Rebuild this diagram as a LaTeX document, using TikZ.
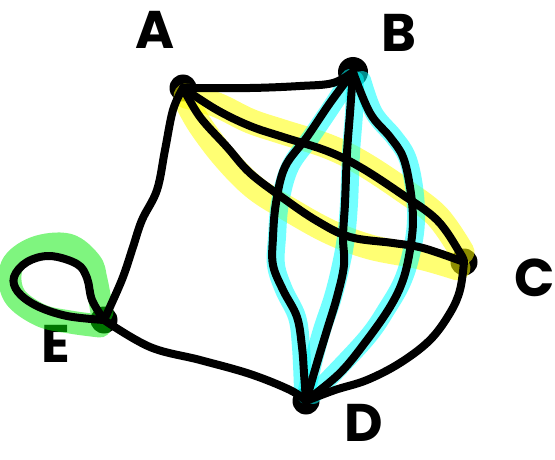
\documentclass[tikz,border=0pt]{standalone}
\usepackage{fontspec}
\setmainfont{Poppins}
\definecolor{hly}{RGB}{255,255,0}
\definecolor{hlc}{RGB}{0,255,255}
\definecolor{hlg}{RGB}{0,235,0}
\begin{document}
\begin{tikzpicture}[x=1pt,y=-1pt,
  vertex/.style={circle,fill=black,inner sep=0pt,minimum size=27pt},
  edgeline/.style={line width=8pt,line cap=round,line join=round},
  hlyellow/.style={line width=25pt,line cap=round,line join=round,draw=hly,opacity=0.55},
  hlcyan/.style={line width=18pt,line cap=round,line join=round,draw=hlc,opacity=0.55},
  hlgreen/.style={line width=23pt,line cap=round,line join=round,draw=hlg,opacity=0.5},
  lbl/.style={font=\fontsize{53}{53}\selectfont\bfseries,inner sep=0pt}]
\useasboundingbox (0,0) rectangle (555,460);
% vertices
\node[vertex] (A) at (183,88) {};
\node[vertex,minimum size=30pt] (B) at (353,72) {};
\node[vertex] (C) at (464,262) {};
\node[vertex] (D) at (306,401) {};
\node[vertex] (E) at (104,320) {};
% labels
\node[lbl] (lA) at (155,30) {A};
\node[lbl] (lB) at (399,33) {B};
\node[lbl] (lC) at (535,278) {C};
\node[lbl,anchor=base] (lD) at (364,441) {D};
\node[lbl] (lE) at (56,344) {E};
% highlights
\draw[hlyellow] plot[smooth,tension=0.6] coordinates {(186,96) (217,105) (250,121) (283,132) (327,146) (360,162) (400,188) (437,216) (462,252)};
\draw[hlyellow] plot[smooth,tension=0.6] coordinates {(186,100) (200,125) (225,158) (255,188) (290,210) (330,232) (370,247) (420,257) (458,268)};
\draw[hlcyan] plot[smooth,tension=0.6] coordinates {(350,78) (334,103) (311,137) (290,167) (280,203) (277,237) (276,265) (284,290) (297,317) (301,347) (303,390)};
\draw[hlcyan] plot[smooth,tension=0.6] coordinates {(355,80) (354,113) (351,153) (349,203) (346,237) (341,265) (333,297) (322,330) (313,363) (306,395)};
\draw[hlcyan] plot[smooth,tension=0.6] coordinates {(362,80) (374,113) (394,137) (407,157) (414,187) (416,220) (412,250) (403,280) (388,307) (365,340) (313,395)};
\draw[hlgreen] plot[smooth,tension=0.6] coordinates {(102,312) (96,280) (90,262) (68,245) (35,248) (12,266) (14,295) (40,315) (70,322) (100,326)};
% edges
\draw[edgeline] plot[smooth,tension=0.6] coordinates {(A.center) (250,88) (300,86) (333,83) (B.center)};
\draw[edgeline] plot[smooth,tension=0.6] coordinates {(A.center) (173,110) (165,150) (157,190) (142,220) (133,247) (123,277) (110,307) (E.center)};
\draw[edgeline] plot[smooth,tension=0.6] coordinates {(E.center) (150,347) (200,360) (250,374) (290,390) (D.center)};
\draw[edgeline] plot[smooth,tension=0.6] coordinates {(D.center) (335,390) (367,380) (400,363) (430,340) (450,313) (460,290) (C.center)};
\draw[edgeline] plot[smooth,tension=0.6] coordinates {(A.center) (217,110) (250,126) (283,137) (327,151) (360,167) (400,193) (437,220) (460,253) (C.center)};
\draw[edgeline] plot[smooth,tension=0.6] coordinates {(A.center) (200,117) (227,147) (250,173) (283,198) (317,221) (350,237) (393,243) (423,248) (C.center)};
\draw[edgeline] plot[smooth,tension=0.6] coordinates {(B.center) (330,103) (307,137) (285,167) (276,203) (273,237) (273,265) (283,290) (297,317) (302,347) (304,373) (D.center)};
\draw[edgeline] plot[smooth,tension=0.6] coordinates {(B.center) (350,113) (347,153) (345,203) (343,237) (344,265) (337,297) (327,330) (317,363) (D.center)};
\draw[edgeline] plot[smooth,tension=0.6] coordinates {(B.center) (370,113) (390,137) (403,157) (410,187) (413,220) (410,250) (403,280) (390,307) (367,340) (340,373) (D.center)};
\draw[edgeline] plot[smooth,tension=0.6] coordinates {(E.center) (92,300) (87,278) (77,264) (50,256) (27,262) (14,277) (18,292) (37,306) (67,316) (E.center)};
\end{tikzpicture}
\end{document}
